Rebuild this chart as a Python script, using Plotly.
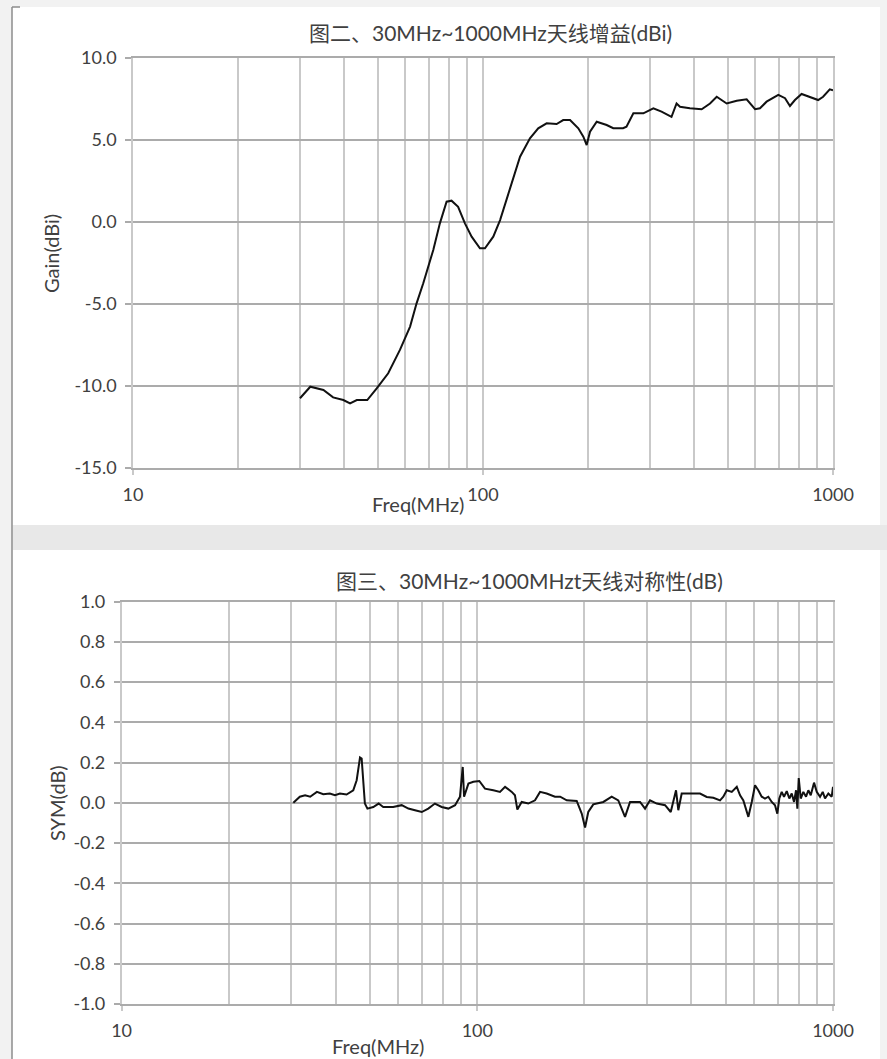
import plotly.graph_objects as go

# ---- Data: Fig.2 antenna gain (dBi) ----
freq_gain = [30, 32.1, 35.0, 37.3, 39.9, 41.7, 43.6, 46.7, 49.7, 53.6, 57.9, 61.9, 64.6, 67.5,
             72.1, 75.3, 78.7, 81.3, 84.9, 88.8, 92.8, 98, 101.3, 107, 111.9, 119.4, 127.6,
             136.2, 143.8, 152, 162.3, 169.5, 177.3, 187.2, 193.5, 197.8, 202.2, 211.3, 225.6,
             235.6, 251.3, 257, 268.9, 287.2, 306.7, 323.7, 345.6, 357.3, 365.5, 390, 421.5,
             445.3, 465.3, 496.9, 530.8, 566.6, 579.5, 598.8, 618.6, 646, 697.8, 729.4, 753.4,
             778.4, 813.3, 859, 907, 937, 979, 1000]
gain = [-10.75, -10.05, -10.25, -10.7, -10.86, -11.06, -10.86, -10.86, -10.15, -9.23, -7.81,
        -6.39, -4.97, -3.75, -1.72, -0.1, 1.22, 1.28, 0.91, -0.1, -0.91, -1.62, -1.62, -0.91,
        0.1, 2.0, 3.96, 5.08, 5.69, 5.99, 5.95, 6.19, 6.19, 5.69, 5.18, 4.67, 5.48, 6.09, 5.89,
        5.69, 5.69, 5.79, 6.6, 6.6, 6.91, 6.7, 6.39, 7.2, 7.0, 6.91, 6.85, 7.2, 7.61, 7.2, 7.37,
        7.45, 7.2, 6.85, 6.91, 7.31, 7.72, 7.52, 7.05, 7.41, 7.78, 7.61, 7.41, 7.61, 8.06, 8.0]

# ---- Data: Fig.3 antenna symmetry (dB) ----
freq_sym = [30.4, 31.7, 32.8, 33.9, 35.4, 36.9, 38.5, 39.8, 41.1, 42.9, 44.8, 45.8, 46.8, 47.3,
            48.3, 49.1, 51.0, 52.8, 54.4, 58.0, 61.3, 64.0, 66.8, 69.8, 72.8, 76.0, 79.4, 82.9,
            86.6, 89.4, 91.0, 91.8, 94.4, 97.5, 101.3, 105.1, 110.9, 115.8, 119.7, 125, 127.6,
            129.6, 133.3, 139.1, 145.3, 150.1, 156.7, 165.3, 171, 178.4, 190.3, 196.6, 200.9,
            205.1, 211.9, 226.1, 238.7, 249.1, 260.2, 268.8, 286.8, 296.2, 305.9, 319.5, 337.2,
            349.8, 362, 367.4, 375.5,
            396.3, 422.9, 441.6, 460.8, 481.3, 491.6, 502.8, 519.3, 536.4, 548, 559.7, 578.2,
            591, 603.7, 616.6, 630.4, 643.9, 657.9, 672.6, 687, 697.4, 706.4, 717.5, 728.3,
            741.2, 753.8, 765.6, 777.1, 787.2, 793.9, 801.1, 811.5, 825.3, 839.9, 852.5, 865.8,
            884.5, 900.1, 919.6, 935.7, 949.8, 970.3, 991.6, 1000]
sym = [0.0, 0.03, 0.037, 0.03, 0.054, 0.042, 0.046, 0.037, 0.046, 0.041, 0.062, 0.112, 0.225,
       0.22, -0.004, -0.029, -0.021, -0.004, -0.021, -0.021, -0.012, -0.029, -0.037, -0.046,
       -0.029, -0.004, -0.021, -0.029, -0.012, 0.03, 0.178, 0.03, 0.095, 0.104, 0.108, 0.07,
       0.062, 0.054, 0.079, 0.054, 0.037, -0.034, 0.004, -0.004, 0.012, 0.054, 0.046, 0.03,
       0.03, 0.012, 0.009, -0.054, -0.123, -0.046, -0.008, 0.004, 0.03, 0.012, -0.07, 0.004,
       0.004, -0.029, 0.012, -0.004, -0.012, -0.046, 0.062, -0.037, 0.046,
       0.046, 0.046, 0.029, 0.025, 0.012, 0.03, 0.062, 0.054, 0.079, 0.037, 0.012, -0.07,
       0.004, 0.087, 0.062, 0.03, 0.021, 0.03, 0.004, -0.012, -0.054, 0.021, 0.054, 0.03,
       0.058, 0.021, 0.046, 0.004, 0.062, -0.029, 0.123, 0.021, 0.054, 0.03, 0.062, 0.037,
       0.1, 0.054, 0.029, 0.054, 0.021, 0.046, 0.03, 0.079]

gain_ticks = [10, 5, 0, -5, -10, -15]
gain_ticktext = ["10.0", "5.0", "0.0", "-5.0", "-10.0", "-15.0"]
sym_ticks = [1.0, 0.8, 0.6, 0.4, 0.2, 0.0, -0.2, -0.4, -0.6, -0.8, -1.0]
sym_ticktext = ["1.0", "0.8", "0.6", "0.4", "0.2", "0.0", "-0.2", "-0.4", "-0.6", "-0.8", "-1.0"]
freq_major = [10, 100, 1000]
freq_major_text = ["10", "100", "1000"]
freq_minor = [20, 30, 40, 50, 60, 70, 80, 90, 200, 300, 400, 500, 600, 700, 800, 900]

title_top = "图二、30MHz~1000MHz天线增益(dBi)"
title_bottom = "图三、30MHz~1000MHzt天线对称性(dB)"

W, H = 887, 1059
FONT = "Lato, 'Noto Sans CJK SC', sans-serif"
TXT = "#404040"
HGRID = "#ababab"
VGRID = "#c9c9c9"


def px(x):
    return x / W


def py(y):
    return 1 - y / H


fig = go.Figure()
fig.add_trace(go.Scatter(x=freq_gain, y=gain, mode="lines", line=dict(color="#111111", width=2),
                         xaxis="x", yaxis="y", showlegend=False, hoverinfo="skip"))
fig.add_trace(go.Scatter(x=freq_sym, y=sym, mode="lines", line=dict(color="#111111", width=2),
                         xaxis="x2", yaxis="y2", showlegend=False, hoverinfo="skip"))


def xaxis(domain, anchor):
    return dict(type="log", range=[1, 3], domain=domain, anchor=anchor, automargin=False,
                tickvals=freq_major, ticktext=freq_major_text,
                showgrid=True, gridcolor=VGRID, gridwidth=1.5,
                minor=dict(tickvals=freq_minor, showgrid=True, gridcolor=VGRID, gridwidth=1.5,
                           ticks=""),
                ticks="outside", ticklen=5, tickwidth=1.5, tickcolor=VGRID,
                showline=True, linecolor=HGRID, linewidth=2, mirror=True,
                zeroline=False, ticklabelstandoff=4,
                tickfont=dict(family=FONT, size=18, color=TXT), fixedrange=True)


def yaxis(domain, anchor, rng, tv, tt):
    return dict(range=rng, domain=domain, anchor=anchor, automargin=False,
                tickvals=tv, ticktext=tt,
                showgrid=True, gridcolor=HGRID, gridwidth=2,
                ticks="outside", ticklen=6, tickwidth=2, tickcolor=HGRID,
                showline=True, linecolor=VGRID, linewidth=1.5, mirror=True,
                zeroline=False, ticklabelstandoff=5,
                tickfont=dict(family=FONT, size=18, color=TXT), fixedrange=True)


fig.update_layout(
    width=W, height=H, autosize=False,
    margin=dict(l=0, r=0, t=0, b=0, pad=0, autoexpand=False),
    paper_bgcolor="#f2f2f2", plot_bgcolor="white",
    xaxis=xaxis([px(133), px(833)], "y"),
    yaxis=yaxis([py(468), py(57.5)], "x", [-15, 10], gain_ticks, gain_ticktext),
    xaxis2=xaxis([px(121.6), px(833)], "y2"),
    yaxis2=yaxis([py(1004), py(601.5)], "x2", [-1, 1], sym_ticks, sym_ticktext),
)

# frame / background boxes
shapes = [
    dict(type="rect", xref="paper", yref="paper", x0=px(12), x1=px(880), y0=py(525), y1=py(7),
         fillcolor="white", line=dict(width=0), layer="below"),
    dict(type="rect", xref="paper", yref="paper", x0=px(12), x1=px(880), y0=py(1059), y1=py(550),
         fillcolor="white", line=dict(width=0), layer="below"),
    dict(type="rect", xref="paper", yref="paper", x0=px(13), x1=px(887), y0=py(550), y1=py(525),
         fillcolor="#e8e8e8", line=dict(width=0), layer="below"),
    dict(type="line", xref="paper", yref="paper", x0=px(12), x1=px(12), y0=py(1059), y1=py(7),
         line=dict(color="#8c8c8c", width=1.5), layer="below"),
    dict(type="line", xref="paper", yref="paper", x0=px(12), x1=px(20), y0=py(7), y1=py(7),
         line=dict(color="#8c8c8c", width=1.5), layer="below"),
]

ann_font = dict(family=FONT, size=20, color=TXT)
annotations = [
    dict(text=title_top, x=px(490), y=py(33), xref="paper", yref="paper", showarrow=False,
         xanchor="center", yanchor="middle", font=dict(family=FONT, size=21, color=TXT)),
    dict(text=title_bottom, x=px(529), y=py(580), xref="paper", yref="paper", showarrow=False,
         xanchor="center", yanchor="middle", font=dict(family=FONT, size=21, color=TXT)),
    dict(text="Gain(dBi)", x=px(51), y=py(254), xref="paper", yref="paper", showarrow=False,
         textangle=-90, xanchor="center", yanchor="middle", font=ann_font),
    dict(text="Freq(MHz)", x=px(418), y=py(504), xref="paper", yref="paper", showarrow=False,
         xanchor="center", yanchor="middle", font=ann_font),
    dict(text="SYM(dB)", x=px(57), y=py(803), xref="paper", yref="paper", showarrow=False,
         textangle=-90, xanchor="center", yanchor="middle", font=ann_font),
    dict(text="Freq(MHz)", x=px(378), y=py(1046), xref="paper", yref="paper", showarrow=False,
         xanchor="center", yanchor="middle", font=ann_font),
]
fig.update_layout(shapes=shapes, annotations=annotations)

fig.write_html("out.html", config={"displayModeBar": False},
               post_script="document.body.style.margin='0';")
